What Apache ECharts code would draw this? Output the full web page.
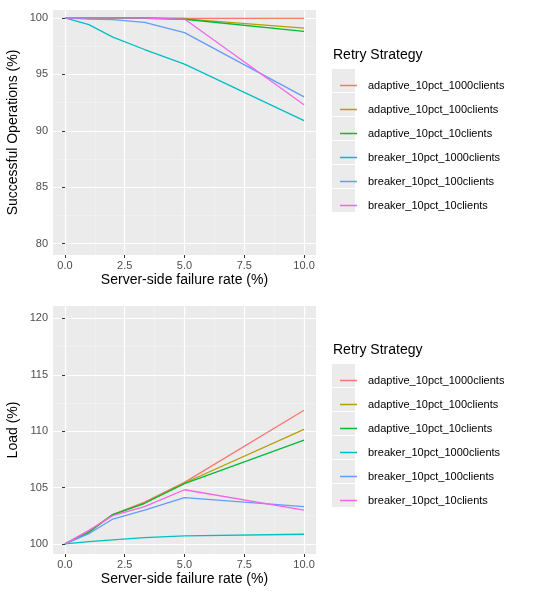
<!DOCTYPE html><html><head><meta charset="utf-8"><script src="https://cdn.jsdelivr.net/npm/echarts@6/dist/echarts.min.js"></script>
<style>body{margin:0}#c{width:540px;height:600px}</style></head><body><div id="c"></div><script>
const xVals=[0,1,2,3.33,5,10];
const names=['adaptive_10pct_1000clients','adaptive_10pct_100clients','adaptive_10pct_10clients','breaker_10pct_1000clients','breaker_10pct_100clients','breaker_10pct_10clients'];
const colors=['#F8766D','#B79F00','#00BA38','#00BFC4','#619CFF','#F564E3'];
const success=[
[100,100,100,100,99.97,99.95],
[100,100,100,99.98,99.92,99.1],
[100,100,100,99.97,99.88,98.8],
[100,99.4,98.3,97.2,95.9,90.9],
[100,99.9,99.85,99.6,98.7,93.0],
[100,100,100,99.98,99.9,92.3]];
const load=[
[100,101.1,102.6,103.7,105.45,111.85],
[100,101.1,102.6,103.6,105.4,110.15],
[100,101.0,102.6,103.6,105.35,109.2],
[100,100.2,100.35,100.55,100.7,100.85],
[100,100.9,102.2,103.0,104.1,103.3],
[100,101.2,102.5,103.3,104.8,103.0]];
const xMajor=[0,2.5,5,7.5,10], xMinor=[1.25,3.75,6.25,8.75];
const y1Major=[80,85,90,95,100], y1Minor=[82.5,87.5,92.5,97.5];
const y2Major=[100,105,110,115,120], y2Minor=[102.5,107.5,112.5,117.5];
const grids=[{left:53,top:10,width:263,height:245},{left:53,top:306,width:263,height:248}];
function ax(type,gi,min,max,major,minor,title){
 const base={type:'value',gridIndex:gi,min,max};
 return [Object.assign({},base,{name:title,nameLocation:'middle',nameGap:type==='x'?18:33,nameTextStyle:{fontSize:14,color:'#000',fontFamily:'Liberation Sans'},
  axisLine:{show:false},axisTick:{show:true,customValues:major,length:3,lineStyle:{color:'#333'}},
  axisLabel:{customValues:major,color:'#4d4d4d',fontSize:11,margin:5,fontFamily:'Liberation Sans',formatter:v=>type==='x'?v.toFixed(1):String(v)},
  splitLine:{show:true,lineStyle:{color:'#fff',width:1.2}},z:3}),
  Object.assign({},base,{axisLine:{show:false},axisTick:{show:false,customValues:minor},axisLabel:{show:false,customValues:minor},splitLine:{show:true,lineStyle:{color:'#f4f4f4',width:0.6}},z:2})];
}
const xAxis=[...ax('x',0,-0.5,10.5,xMajor,xMinor,'Server-side failure rate (%)'),...ax('x',1,-0.5,10.5,xMajor,xMinor,'Server-side failure rate (%)')];
const yAxis=[...ax('y',0,79,100.7,y1Major,y1Minor,'Successful Operations (%)'),...ax('y',1,99.1,121.1,y2Major,y2Minor,'Load (%)')];
const series=[];
[success,load].forEach((d,gi)=>d.forEach((s,i)=>series.push({type:'line',name:names[i],xAxisIndex:gi*2,yAxisIndex:gi*2,symbol:'none',
 lineStyle:{color:colors[i],width:1.3},itemStyle:{color:colors[i]},data:s.map((v,j)=>[xVals[j],v]),z:5})));
const legTops=[72,367];
const graphic=[];
grids.forEach((g,gi)=>{graphic.push({type:'rect',shape:{x:g.left,y:g.top,width:g.width,height:g.height},style:{fill:'#ebebeb'},z:-10});
 graphic.push({type:'text',left:333,top:legTops[gi]-24,style:{text:'Retry Strategy',fontSize:14,fill:'#000',fontFamily:'Liberation Sans'}});
 for(let i=0;i<6;i++)graphic.push({type:'rect',shape:{x:332,y:legTops[gi]+8.5-11.5+i*24,width:23,height:23},style:{fill:'#ebebeb'},z:-5});});
const legend=legTops.map(t=>({data:names.map(n=>({name:n,icon:'rect'})),orient:'vertical',left:335,top:t,itemGap:7,itemWidth:17,itemHeight:1.5,selectedMode:false,
 textStyle:{fontSize:11,color:'#000',fontFamily:'Liberation Sans',lineHeight:17,height:17,padding:[0,0,0,6]}}));
const ch=echarts.init(document.getElementById('c'));
ch.setOption({animation:false,backgroundColor:'#fff',grid:grids,xAxis,yAxis,series,legend,graphic});
</script></body></html>
